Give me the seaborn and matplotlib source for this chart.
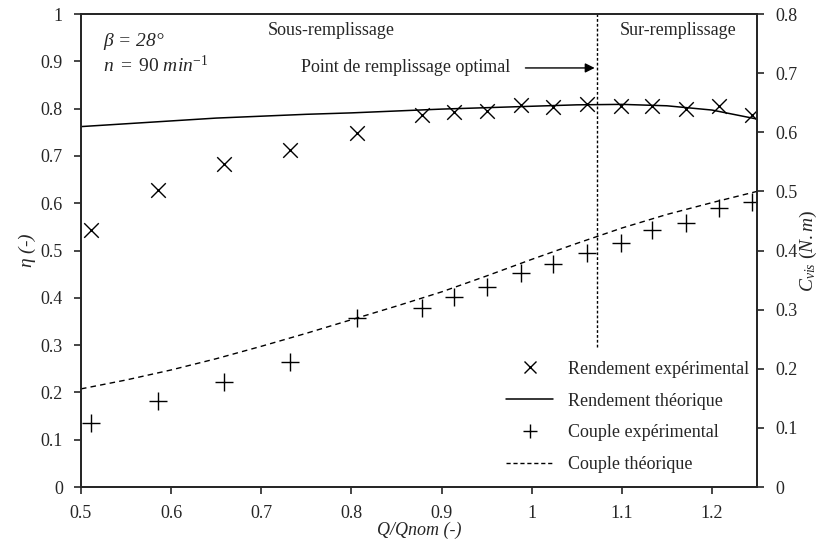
import numpy as np
import pandas as pd
import matplotlib
matplotlib.use("Agg")
import matplotlib.pyplot as plt
from matplotlib.lines import Line2D
import seaborn as sns

# données
q_exp = [0.511, 0.586, 0.659, 0.732, 0.806, 0.878, 0.914, 0.951, 0.988,
         1.024, 1.061, 1.099, 1.134, 1.171, 1.208, 1.244]
eta_exp = [0.543, 0.628, 0.683, 0.713, 0.748, 0.787, 0.792, 0.795, 0.808,
           0.803, 0.810, 0.806, 0.806, 0.800, 0.806, 0.787]
c_exp = [0.108, 0.145, 0.178, 0.212, 0.286, 0.303, 0.321, 0.338, 0.362,
         0.378, 0.396, 0.413, 0.435, 0.446, 0.472, 0.482]

q_th = [0.50, 0.55, 0.60, 0.65, 0.70, 0.75, 0.80, 0.85, 0.90, 0.95, 1.00,
        1.05, 1.10, 1.15, 1.20, 1.25]
eta_th = [0.762, 0.768, 0.774, 0.780, 0.784, 0.788, 0.791, 0.795, 0.799,
          0.802, 0.805, 0.808, 0.809, 0.806, 0.797, 0.778]
c_th = [0.166, 0.181, 0.198, 0.217, 0.238, 0.260, 0.283, 0.306, 0.330,
        0.357, 0.385, 0.412, 0.438, 0.461, 0.481, 0.500]

q_opt = 1.073

sns.set_style("ticks")
plt.rcParams['font.family'] = ['Liberation Serif', 'DejaVu Serif']
plt.rcParams['mathtext.fontset'] = 'custom'
plt.rcParams['mathtext.rm'] = 'Liberation Serif'
plt.rcParams['mathtext.it'] = 'Liberation Serif:italic'
plt.rcParams['font.size'] = 13

df_exp = pd.DataFrame({'q': q_exp, 'eta': eta_exp, 'c': c_exp})
df_th = pd.DataFrame({'q': q_th, 'eta': eta_th, 'c': c_th})

fig = plt.figure(figsize=(8.23, 5.5), dpi=100)
ax = fig.add_axes([0.0984, 0.1145, 0.8214, 0.8600])
ax2 = ax.twinx()

sns.lineplot(data=df_th, x='q', y='eta', ax=ax, color='black', lw=1.1)
sns.scatterplot(data=df_exp, x='q', y='eta', ax=ax, marker='x', color='black',
                s=110, linewidth=1.0)
sns.lineplot(data=df_th, x='q', y='c', ax=ax2, color='black', lw=1.0,
             linestyle=(0, (4, 3)))
sns.scatterplot(data=df_exp, x='q', y='c', ax=ax2, marker='+', color='black',
                s=180, linewidth=1.0)

ax.set_xlim(0.5, 1.25)
ax.set_ylim(0, 1)
ax2.set_ylim(0, 0.8)
ax.set_xticks(np.arange(0.5, 1.21, 0.1))
ax.set_xticklabels(['0.5', '0.6', '0.7', '0.8', '0.9', '1', '1.1', '1.2'])
ax.set_yticks(np.arange(0, 1.01, 0.1))
ax.set_yticklabels(['0', '0.1', '0.2', '0.3', '0.4', '0.5', '0.6', '0.7', '0.8', '0.9', '1'])
ax2.set_yticks(np.arange(0, 0.81, 0.1))
ax2.set_yticklabels(['0', '0.1', '0.2', '0.3', '0.4', '0.5', '0.6', '0.7', '0.8'])

for a in (ax, ax2):
    a.tick_params(direction='out', length=5, width=1.2, labelsize=13, pad=8)
    for s in a.spines.values():
        s.set_linewidth(1.3)
        s.set_visible(True)

ax.set_xlabel('Q/Qnom (-)', style='italic', fontsize=13, labelpad=0)
ax.set_ylabel(r'$\eta$ (-)', style='italic', fontsize=14, labelpad=2)
ax2.set_ylabel(r'$C_{vis}\ (N.m)$', fontsize=14, labelpad=0)

# ligne du point optimal
ax.plot([q_opt, q_opt], [0.296, 1.0], color='black', lw=1.0, linestyle=(0, (2, 1.5)))
ax.annotate('', xy=(q_opt, 0.886), xytext=(0.990, 0.886),
            arrowprops=dict(arrowstyle='-|>', color='black', lw=1.0,
                            mutation_scale=14))
ax.text(0.976, 0.886, 'Point de remplissage optimal', ha='right', va='center', fontsize=13)
ax.text(0.778, 0.965, 'Sous-remplissage', ha='center', va='center', fontsize=13)
ax.text(1.163, 0.965, 'Sur-remplissage', ha='center', va='center', fontsize=13)
ax.text(0.524, 0.942, r'$\beta$ = 28°', style='italic', ha='left', va='center', fontsize=14)
ax.text(0.524, 0.892, r'$\mathit{n\ =\ 90\ min^{-1}}$', ha='left', va='center', fontsize=14)

handles = [
    Line2D([], [], color='black', marker='x', linestyle='none', markersize=8, mew=1.0),
    Line2D([], [], color='black', lw=1.1),
    Line2D([], [], color='black', marker='+', linestyle='none', markersize=10, mew=1.0),
    Line2D([], [], color='black', lw=1.0, linestyle=(0, (3, 2))),
]
labels = ['Rendement expérimental', 'Rendement théorique',
          'Couple expérimental', 'Couple théorique']
ax2.legend(handles, labels, loc='lower right', bbox_to_anchor=(1.012, -0.005),
           frameon=False, fontsize=13, handlelength=2.6, labelspacing=0.82,
           handletextpad=0.8)
if ax.get_legend() is not None:
    ax.get_legend().remove()

fig.savefig('out.png', dpi=100)
